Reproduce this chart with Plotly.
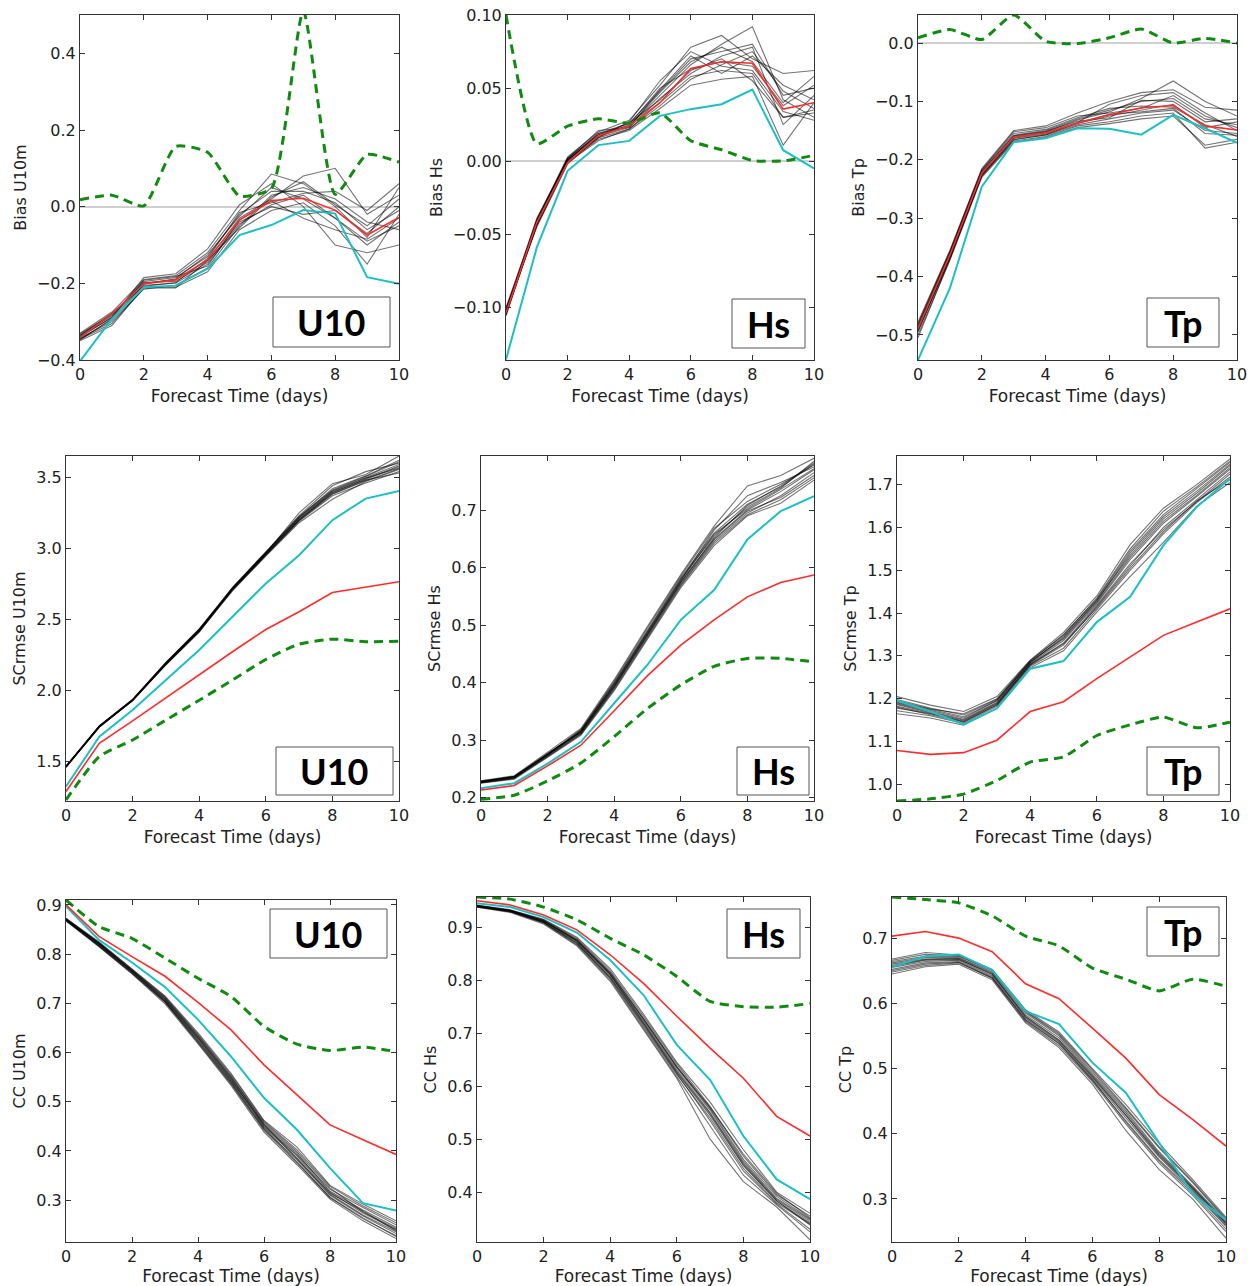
import plotly.graph_objects as go

forecast_days = [0, 1, 2, 3, 4, 5, 6, 7, 8, 9, 10]
x_tick_values = [0, 2, 4, 6, 8, 10]

# ---------------- Bias U10m ----------------
bias_u10_members = [
    [-0.335, -0.285, -0.195, -0.185, -0.130, -0.020, 0.040, 0.040, 0.010, -0.060, -0.010],
    [-0.345, -0.295, -0.205, -0.200, -0.150, -0.045, 0.005, 0.030, -0.030, -0.090, -0.050],
    [-0.330, -0.275, -0.190, -0.180, -0.120, -0.010, 0.085, 0.060, 0.000, -0.080, 0.050],
    [-0.350, -0.310, -0.210, -0.210, -0.170, -0.060, -0.010, 0.010, -0.050, -0.150, -0.020],
    [-0.340, -0.280, -0.200, -0.190, -0.140, -0.030, 0.020, 0.080, 0.100, -0.020, 0.030],
    [-0.338, -0.290, -0.185, -0.175, -0.110, 0.005, 0.060, 0.000, -0.100, -0.120, -0.100],
    [-0.343, -0.300, -0.215, -0.205, -0.160, -0.050, 0.030, 0.050, 0.020, -0.040, -0.060],
    [-0.332, -0.282, -0.198, -0.195, -0.145, -0.040, 0.000, -0.020, -0.010, -0.070, 0.000],
    [-0.348, -0.292, -0.202, -0.188, -0.125, -0.025, 0.050, 0.020, -0.030, -0.100, -0.040],
    [-0.336, -0.278, -0.208, -0.198, -0.135, -0.015, 0.010, 0.035, 0.040, -0.010, 0.060],
    [-0.341, -0.288, -0.192, -0.182, -0.155, -0.035, 0.015, -0.030, -0.060, -0.085, -0.030],
    [-0.346, -0.305, -0.212, -0.212, -0.140, -0.055, 0.025, 0.065, 0.005, -0.050, 0.020],
]
bias_u10_mean = [-0.341, -0.280, -0.201, -0.191, -0.138, -0.035, 0.016, 0.022, -0.009, -0.074, -0.028]
bias_u10_control = [-0.403, -0.293, -0.210, -0.206, -0.162, -0.074, -0.048, -0.009, -0.018, -0.184, -0.201]
bias_u10_green = [0.018, 0.030, 0.002, 0.157, 0.142, 0.028, 0.048, 0.510, 0.032, 0.136, 0.116]

# ---------------- Bias Hs ----------------
bias_hs_members = [
    [-0.102, -0.041, 0.002, 0.019, 0.026, 0.048, 0.070, 0.075, 0.080, 0.045, 0.050],
    [-0.105, -0.044, -0.001, 0.016, 0.022, 0.040, 0.058, 0.062, 0.060, 0.030, 0.035],
    [-0.100, -0.040, 0.003, 0.020, 0.028, 0.052, 0.078, 0.086, 0.070, 0.060, 0.062],
    [-0.104, -0.043, 0.000, 0.015, 0.021, 0.036, 0.052, 0.056, 0.058, 0.011, 0.040],
    [-0.103, -0.042, 0.001, 0.018, 0.024, 0.045, 0.066, 0.080, 0.092, 0.042, 0.030],
    [-0.101, -0.045, -0.002, 0.017, 0.025, 0.050, 0.063, 0.068, 0.065, 0.038, 0.052],
    [-0.106, -0.041, 0.002, 0.021, 0.023, 0.043, 0.060, 0.072, 0.078, 0.025, 0.045],
    [-0.102, -0.039, 0.001, 0.016, 0.027, 0.055, 0.075, 0.065, 0.062, 0.034, 0.028],
    [-0.104, -0.044, -0.001, 0.014, 0.022, 0.038, 0.056, 0.066, 0.075, 0.048, 0.036],
    [-0.103, -0.042, 0.000, 0.019, 0.024, 0.047, 0.068, 0.078, 0.068, 0.040, 0.058],
    [-0.101, -0.043, 0.002, 0.018, 0.026, 0.042, 0.062, 0.070, 0.055, 0.030, 0.033],
    [-0.105, -0.040, 0.001, 0.017, 0.023, 0.049, 0.072, 0.060, 0.072, 0.052, 0.042],
]
bias_hs_mean = [-0.1037, -0.042, -0.001, 0.0174, 0.0242, 0.040, 0.0635, 0.068, 0.067, 0.0356, 0.040]
bias_hs_control = [-0.1356, -0.059, -0.0066, 0.011, 0.0139, 0.031, 0.0356, 0.039, 0.049, 0.0075, -0.005]
bias_hs_green = [0.1000, 0.012, 0.024, 0.029, 0.026, 0.033, 0.014, 0.0078, 0.0005, 0.0002, 0.004]

# ---------------- Bias Tp ----------------
bias_tp_members = [
    [-0.485, -0.360, -0.220, -0.158, -0.150, -0.130, -0.115, -0.100, -0.095, -0.130, -0.140],
    [-0.492, -0.368, -0.226, -0.165, -0.158, -0.140, -0.130, -0.120, -0.115, -0.150, -0.155],
    [-0.478, -0.355, -0.215, -0.150, -0.142, -0.120, -0.100, -0.085, -0.080, -0.110, -0.115],
    [-0.500, -0.372, -0.230, -0.170, -0.162, -0.145, -0.138, -0.130, -0.125, -0.175, -0.165],
    [-0.488, -0.362, -0.222, -0.160, -0.152, -0.132, -0.118, -0.095, -0.065, -0.100, -0.125],
    [-0.483, -0.358, -0.218, -0.155, -0.148, -0.128, -0.112, -0.108, -0.110, -0.140, -0.160],
    [-0.495, -0.366, -0.225, -0.163, -0.156, -0.138, -0.125, -0.115, -0.105, -0.145, -0.135],
    [-0.490, -0.364, -0.224, -0.162, -0.153, -0.136, -0.105, -0.090, -0.085, -0.120, -0.150],
    [-0.505, -0.370, -0.228, -0.168, -0.160, -0.142, -0.135, -0.125, -0.120, -0.180, -0.170],
    [-0.481, -0.357, -0.217, -0.152, -0.145, -0.125, -0.120, -0.112, -0.090, -0.125, -0.145],
    [-0.487, -0.361, -0.221, -0.159, -0.151, -0.134, -0.128, -0.098, -0.100, -0.135, -0.130],
    [-0.493, -0.369, -0.227, -0.166, -0.157, -0.137, -0.122, -0.118, -0.112, -0.155, -0.158],
]
bias_tp_mean = [-0.489, -0.363, -0.223, -0.161, -0.154, -0.137, -0.123, -0.111, -0.107, -0.142, -0.149]
bias_tp_control = [-0.543, -0.420, -0.246, -0.170, -0.163, -0.146, -0.147, -0.157, -0.123, -0.146, -0.171]
bias_tp_green = [0.009, 0.023, 0.006, 0.048, 0.003, -0.001, 0.009, 0.024, 0.000, 0.008, 0.000]

# ---------------- SCrmse U10m ----------------
rmse_u10_members = [
    [1.465, 1.750, 1.935, 2.195, 2.430, 2.725, 2.975, 3.230, 3.440, 3.540, 3.600],
    [1.460, 1.740, 1.928, 2.185, 2.418, 2.710, 2.955, 3.195, 3.380, 3.475, 3.560],
    [1.458, 1.745, 1.932, 2.182, 2.420, 2.720, 2.965, 3.250, 3.455, 3.520, 3.650],
    [1.464, 1.742, 1.930, 2.192, 2.428, 2.712, 2.960, 3.205, 3.390, 3.490, 3.580],
    [1.461, 1.747, 1.926, 2.180, 2.410, 2.705, 2.950, 3.190, 3.370, 3.460, 3.540],
    [1.466, 1.748, 1.934, 2.194, 2.432, 2.722, 2.970, 3.215, 3.405, 3.500, 3.590],
    [1.459, 1.739, 1.929, 2.186, 2.415, 2.700, 2.945, 3.180, 3.345, 3.470, 3.555],
    [1.463, 1.746, 1.933, 2.190, 2.425, 2.718, 2.968, 3.220, 3.420, 3.510, 3.620],
    [1.460, 1.743, 1.931, 2.188, 2.422, 2.714, 2.958, 3.200, 3.395, 3.485, 3.575],
    [1.462, 1.744, 1.930, 2.178, 2.412, 2.716, 2.962, 3.212, 3.400, 3.495, 3.565],
    [1.465, 1.749, 1.936, 2.196, 2.426, 2.708, 2.952, 3.198, 3.385, 3.480, 3.530],
    [1.457, 1.741, 1.927, 2.184, 2.418, 2.722, 2.972, 3.225, 3.410, 3.505, 3.610],
]
rmse_u10_mean = [1.287, 1.627, 1.784, 1.948, 2.107, 2.271, 2.428, 2.553, 2.689, 2.729, 2.764]
rmse_u10_control = [1.322, 1.673, 1.861, 2.072, 2.283, 2.518, 2.752, 2.951, 3.198, 3.350, 3.404]
rmse_u10_green = [1.228, 1.533, 1.650, 1.790, 1.930, 2.072, 2.217, 2.325, 2.360, 2.342, 2.346]

# ---------------- SCrmse Hs ----------------
rmse_hs_members = [
    [0.228, 0.236, 0.276, 0.318, 0.400, 0.492, 0.582, 0.660, 0.710, 0.740, 0.780],
    [0.226, 0.234, 0.272, 0.310, 0.390, 0.480, 0.570, 0.645, 0.695, 0.725, 0.765],
    [0.229, 0.238, 0.279, 0.320, 0.405, 0.498, 0.588, 0.672, 0.742, 0.760, 0.790],
    [0.225, 0.232, 0.270, 0.308, 0.386, 0.475, 0.565, 0.638, 0.690, 0.712, 0.752],
    [0.227, 0.235, 0.275, 0.315, 0.397, 0.488, 0.578, 0.665, 0.725, 0.748, 0.775],
    [0.228, 0.237, 0.274, 0.312, 0.392, 0.484, 0.575, 0.650, 0.700, 0.732, 0.770],
    [0.226, 0.233, 0.273, 0.316, 0.398, 0.490, 0.580, 0.655, 0.705, 0.738, 0.785],
    [0.227, 0.236, 0.277, 0.313, 0.393, 0.482, 0.572, 0.648, 0.698, 0.722, 0.760],
    [0.229, 0.236, 0.275, 0.317, 0.402, 0.495, 0.585, 0.668, 0.715, 0.745, 0.778],
    [0.226, 0.234, 0.271, 0.311, 0.388, 0.478, 0.568, 0.642, 0.692, 0.718, 0.756],
    [0.228, 0.235, 0.274, 0.314, 0.396, 0.487, 0.577, 0.658, 0.702, 0.736, 0.772],
    [0.227, 0.237, 0.276, 0.315, 0.394, 0.485, 0.574, 0.652, 0.708, 0.742, 0.782],
]
rmse_hs_mean = [0.213, 0.221, 0.255, 0.291, 0.351, 0.412, 0.465, 0.509, 0.549, 0.574, 0.587]
rmse_hs_control = [0.216, 0.225, 0.259, 0.297, 0.364, 0.431, 0.509, 0.561, 0.649, 0.698, 0.724]
rmse_hs_green = [0.197, 0.204, 0.229, 0.260, 0.306, 0.355, 0.396, 0.428, 0.442, 0.442, 0.436]

# ---------------- SCrmse Tp ----------------
rmse_tp_members = [
    [1.190, 1.172, 1.155, 1.195, 1.285, 1.340, 1.425, 1.530, 1.615, 1.675, 1.740],
    [1.180, 1.162, 1.145, 1.185, 1.278, 1.325, 1.415, 1.510, 1.600, 1.665, 1.730],
    [1.205, 1.185, 1.170, 1.205, 1.290, 1.355, 1.440, 1.560, 1.645, 1.700, 1.760],
    [1.165, 1.155, 1.138, 1.178, 1.272, 1.312, 1.402, 1.485, 1.565, 1.650, 1.705],
    [1.188, 1.170, 1.152, 1.192, 1.284, 1.345, 1.428, 1.540, 1.625, 1.685, 1.748],
    [1.178, 1.165, 1.148, 1.188, 1.280, 1.330, 1.418, 1.515, 1.595, 1.660, 1.725],
    [1.198, 1.178, 1.162, 1.198, 1.288, 1.350, 1.432, 1.545, 1.630, 1.690, 1.752],
    [1.172, 1.160, 1.142, 1.182, 1.276, 1.318, 1.408, 1.500, 1.585, 1.658, 1.718],
    [1.186, 1.168, 1.150, 1.190, 1.282, 1.336, 1.422, 1.525, 1.610, 1.672, 1.736],
    [1.192, 1.175, 1.158, 1.196, 1.286, 1.342, 1.430, 1.535, 1.620, 1.680, 1.745],
    [1.182, 1.166, 1.146, 1.186, 1.280, 1.328, 1.412, 1.505, 1.590, 1.662, 1.712],
    [1.195, 1.176, 1.165, 1.200, 1.289, 1.348, 1.435, 1.550, 1.638, 1.695, 1.755],
]
rmse_tp_mean = [1.079, 1.070, 1.074, 1.103, 1.170, 1.193, 1.247, 1.297, 1.348, 1.379, 1.410]
rmse_tp_control = [1.196, 1.170, 1.140, 1.177, 1.270, 1.288, 1.379, 1.438, 1.558, 1.648, 1.714]
rmse_tp_green = [0.961, 0.966, 0.977, 1.009, 1.052, 1.064, 1.114, 1.139, 1.157, 1.132, 1.145]

# ---------------- CC U10m ----------------
cc_u10_members = [
    [0.872, 0.823, 0.768, 0.712, 0.635, 0.552, 0.455, 0.395, 0.318, 0.280, 0.245],
    [0.868, 0.817, 0.762, 0.702, 0.622, 0.538, 0.444, 0.382, 0.310, 0.268, 0.232],
    [0.873, 0.825, 0.770, 0.715, 0.640, 0.558, 0.462, 0.408, 0.330, 0.292, 0.258],
    [0.867, 0.815, 0.760, 0.699, 0.618, 0.533, 0.438, 0.372, 0.302, 0.258, 0.222],
    [0.870, 0.821, 0.766, 0.709, 0.631, 0.548, 0.452, 0.392, 0.322, 0.285, 0.250],
    [0.869, 0.819, 0.764, 0.705, 0.626, 0.542, 0.448, 0.386, 0.312, 0.270, 0.236],
    [0.871, 0.822, 0.767, 0.710, 0.633, 0.550, 0.458, 0.398, 0.325, 0.276, 0.242],
    [0.868, 0.818, 0.763, 0.704, 0.624, 0.540, 0.446, 0.378, 0.305, 0.262, 0.228],
    [0.870, 0.820, 0.765, 0.708, 0.630, 0.546, 0.450, 0.390, 0.316, 0.274, 0.240],
    [0.872, 0.824, 0.769, 0.713, 0.637, 0.555, 0.460, 0.402, 0.328, 0.288, 0.254],
    [0.869, 0.816, 0.761, 0.703, 0.620, 0.536, 0.442, 0.376, 0.306, 0.264, 0.226],
    [0.871, 0.821, 0.766, 0.706, 0.628, 0.544, 0.454, 0.385, 0.314, 0.278, 0.238],
]
cc_u10_mean = [0.900, 0.836, 0.795, 0.755, 0.702, 0.646, 0.575, 0.514, 0.453, 0.423, 0.393]
cc_u10_control = [0.897, 0.829, 0.783, 0.733, 0.667, 0.592, 0.508, 0.443, 0.365, 0.294, 0.279]
cc_u10_green = [0.910, 0.856, 0.832, 0.792, 0.751, 0.714, 0.653, 0.617, 0.604, 0.611, 0.602]

# ---------------- CC Hs ----------------
cc_hs_members = [
    [0.941, 0.932, 0.913, 0.877, 0.815, 0.728, 0.638, 0.558, 0.462, 0.392, 0.350],
    [0.939, 0.929, 0.909, 0.869, 0.804, 0.714, 0.622, 0.540, 0.445, 0.380, 0.340],
    [0.942, 0.933, 0.915, 0.881, 0.822, 0.736, 0.645, 0.570, 0.480, 0.400, 0.360],
    [0.938, 0.928, 0.906, 0.865, 0.798, 0.706, 0.615, 0.500, 0.420, 0.372, 0.310],
    [0.940, 0.931, 0.912, 0.875, 0.812, 0.725, 0.635, 0.555, 0.458, 0.388, 0.348],
    [0.939, 0.930, 0.910, 0.871, 0.807, 0.718, 0.626, 0.545, 0.450, 0.383, 0.342],
    [0.941, 0.932, 0.914, 0.879, 0.818, 0.732, 0.642, 0.562, 0.468, 0.395, 0.355],
    [0.938, 0.929, 0.908, 0.867, 0.801, 0.710, 0.618, 0.525, 0.432, 0.376, 0.325],
    [0.940, 0.931, 0.911, 0.873, 0.810, 0.722, 0.631, 0.550, 0.455, 0.386, 0.345],
    [0.941, 0.932, 0.912, 0.876, 0.814, 0.727, 0.636, 0.560, 0.472, 0.398, 0.352],
    [0.939, 0.930, 0.909, 0.870, 0.805, 0.716, 0.624, 0.535, 0.440, 0.378, 0.330],
    [0.940, 0.931, 0.911, 0.874, 0.811, 0.720, 0.628, 0.548, 0.452, 0.384, 0.338],
]
cc_hs_mean = [0.950, 0.942, 0.923, 0.895, 0.848, 0.794, 0.732, 0.672, 0.615, 0.543, 0.506]
cc_hs_control = [0.945, 0.938, 0.919, 0.890, 0.838, 0.772, 0.678, 0.612, 0.506, 0.424, 0.387]
cc_hs_green = [0.957, 0.953, 0.938, 0.914, 0.879, 0.848, 0.807, 0.760, 0.750, 0.749, 0.756]

# ---------------- CC Tp ----------------
cc_tp_members = [
    [0.662, 0.670, 0.670, 0.648, 0.585, 0.550, 0.492, 0.435, 0.372, 0.320, 0.266],
    [0.652, 0.662, 0.664, 0.640, 0.574, 0.538, 0.482, 0.420, 0.360, 0.312, 0.258],
    [0.668, 0.678, 0.674, 0.652, 0.590, 0.556, 0.500, 0.445, 0.385, 0.330, 0.272],
    [0.645, 0.656, 0.660, 0.636, 0.570, 0.532, 0.476, 0.405, 0.345, 0.300, 0.240],
    [0.660, 0.668, 0.669, 0.646, 0.582, 0.547, 0.490, 0.432, 0.370, 0.318, 0.264],
    [0.655, 0.664, 0.666, 0.642, 0.577, 0.541, 0.485, 0.425, 0.364, 0.314, 0.260],
    [0.664, 0.672, 0.672, 0.650, 0.587, 0.552, 0.495, 0.438, 0.378, 0.325, 0.268],
    [0.650, 0.660, 0.663, 0.638, 0.572, 0.535, 0.480, 0.415, 0.355, 0.306, 0.250],
    [0.658, 0.667, 0.668, 0.644, 0.580, 0.544, 0.488, 0.429, 0.368, 0.317, 0.263],
    [0.666, 0.675, 0.673, 0.651, 0.588, 0.554, 0.498, 0.440, 0.380, 0.327, 0.270],
    [0.648, 0.658, 0.662, 0.639, 0.575, 0.539, 0.483, 0.418, 0.358, 0.309, 0.254],
    [0.657, 0.666, 0.667, 0.645, 0.579, 0.543, 0.487, 0.428, 0.366, 0.316, 0.262],
]
cc_tp_mean = [0.703, 0.710, 0.700, 0.679, 0.630, 0.607, 0.562, 0.516, 0.460, 0.422, 0.381]
cc_tp_control = [0.656, 0.672, 0.675, 0.651, 0.588, 0.568, 0.509, 0.463, 0.386, 0.307, 0.268]
cc_tp_green = [0.763, 0.759, 0.754, 0.734, 0.703, 0.688, 0.654, 0.637, 0.619, 0.637, 0.626]

# ---------------- Panel layout (pixels) ----------------
W, H = 1255, 1286
panels = [
    # (members, mean, control, green, ytitle, yrange, ytickvals, tickformat, label, frame px, box px, zero)
    (bias_u10_members, bias_u10_mean, bias_u10_control, bias_u10_green, "Bias U10m",
     [-0.4, 0.5], [-0.4, -0.2, 0.0, 0.2, 0.4], ".1f", "U10", (80, 399, 15, 360), (273, 390, 297, 347), True),
    (bias_hs_members, bias_hs_mean, bias_hs_control, bias_hs_green, "Bias Hs",
     [-0.136, 0.1], [-0.10, -0.05, 0.0, 0.05, 0.10], ".2f", "Hs", (506, 814, 15, 360), (732, 805, 299, 348), True),
    (bias_tp_members, bias_tp_mean, bias_tp_control, bias_tp_green, "Bias Tp",
     [-0.543, 0.048], [-0.5, -0.4, -0.3, -0.2, -0.1, 0.0], ".1f", "Tp", (918, 1237, 15, 360), (1147, 1219, 298, 347), True),
    (rmse_u10_members, rmse_u10_mean, rmse_u10_control, rmse_u10_green, "SCrmse U10m",
     [1.22, 3.65], [1.5, 2.0, 2.5, 3.0, 3.5], ".1f", "U10", (66, 399, 456, 801), (276, 393, 747, 795), False),
    (rmse_hs_members, rmse_hs_mean, rmse_hs_control, rmse_hs_green, "SCrmse Hs",
     [0.194, 0.794], [0.2, 0.3, 0.4, 0.5, 0.6, 0.7], ".1f", "Hs", (481, 814, 456, 801), (737, 809, 747, 795), False),
    (rmse_tp_members, rmse_tp_mean, rmse_tp_control, rmse_tp_green, "SCrmse Tp",
     [0.961, 1.767], [1.0, 1.1, 1.2, 1.3, 1.4, 1.5, 1.6, 1.7], ".1f", "Tp", (897, 1230, 456, 801), (1147, 1219, 747, 795), False),
    (cc_u10_members, cc_u10_mean, cc_u10_control, cc_u10_green, "CC U10m",
     [0.215, 0.91], [0.3, 0.4, 0.5, 0.6, 0.7, 0.8, 0.9], ".1f", "U10", (66, 396, 900, 1242), (270, 387, 909, 958), False),
    (cc_hs_members, cc_hs_mean, cc_hs_control, cc_hs_green, "CC Hs",
     [0.306, 0.957], [0.4, 0.5, 0.6, 0.7, 0.8, 0.9], ".1f", "Hs", (477, 810, 897, 1242), (727, 800, 909, 958), False),
    (cc_tp_members, cc_tp_mean, cc_tp_control, cc_tp_green, "CC Tp",
     [0.234, 0.763], [0.3, 0.4, 0.5, 0.6, 0.7], ".1f", "Tp", (892, 1226, 897, 1242), (1147, 1219, 907, 956), False),
]

TEXT = "#222222"
FRAME = "#333333"
fig = go.Figure()
shapes = []
annotations = []
layout_axes = {}

for i, (members, mean, control, green, ytitle, yrange, ytv, tfmt, label, frame, box, zero) in enumerate(panels):
    n = i + 1
    xa = "x" if n == 1 else f"x{n}"
    ya = "y" if n == 1 else f"y{n}"
    for m in members:
        fig.add_trace(go.Scatter(x=forecast_days, y=m, mode="lines", xaxis=xa, yaxis=ya,
                                 line=dict(color="rgba(0,0,0,0.55)", width=1.1), showlegend=False,
                                 hoverinfo="skip"))
    fig.add_trace(go.Scatter(x=forecast_days, y=control, mode="lines", xaxis=xa, yaxis=ya,
                             line=dict(color="#1cc0c4", width=2), showlegend=False))
    fig.add_trace(go.Scatter(x=forecast_days, y=mean, mode="lines", xaxis=xa, yaxis=ya,
                             line=dict(color="#ff2a2a", width=1.6), showlegend=False))
    fig.add_trace(go.Scatter(x=forecast_days, y=green, mode="lines", xaxis=xa, yaxis=ya,
                             line=dict(color="#118a11", width=3, dash="9px,6px", shape="spline", smoothing=0.55),
                             showlegend=False))

    l, r, t, b = frame
    xkey = "xaxis" if n == 1 else f"xaxis{n}"
    ykey = "yaxis" if n == 1 else f"yaxis{n}"
    layout_axes[xkey] = dict(
        domain=[l / W, r / W], anchor=ya, range=[0, 10], tickvals=x_tick_values,
        ticks="inside", ticklen=5, tickcolor=FRAME, showline=True, linecolor=FRAME, linewidth=1,
        mirror="ticks", showgrid=False, zeroline=False, automargin=False,
        tickfont=dict(size=16, color=TEXT),
        title=dict(text="Forecast Time (days)", font=dict(size=17, color=TEXT), standoff=6),
    )
    layout_axes[ykey] = dict(
        domain=[1 - b / H, 1 - t / H], anchor=xa, range=yrange, tickvals=ytv, tickformat=tfmt,
        ticks="inside", ticklen=5, tickcolor=FRAME, showline=True, linecolor=FRAME, linewidth=1,
        mirror="ticks", showgrid=False, zeroline=zero, zerolinecolor="#cfcfcf", zerolinewidth=1.5,
        automargin=False, tickfont=dict(size=16, color=TEXT),
        title=dict(text=ytitle, font=dict(size=16, color=TEXT), standoff=6),
    )

    bl, br, bt, bb = box
    shapes.append(dict(type="rect", xref="paper", yref="paper",
                       x0=bl / W, x1=br / W, y0=1 - bb / H, y1=1 - bt / H,
                       line=dict(color="#555555", width=1), fillcolor="white", layer="above"))
    annotations.append(dict(xref="paper", yref="paper", x=(bl + br) / 2 / W, y=1 - (bt + bb) / 2 / H,
                            text=f"<b>{label}</b>", showarrow=False, xanchor="center", yanchor="middle",
                            font=dict(family="Lato", size=36, color="black")))

fig.update_layout(
    width=W, height=H, margin=dict(l=0, r=0, t=0, b=0),
    template="none", paper_bgcolor="white", plot_bgcolor="white",
    font=dict(family="DejaVu Sans", color=TEXT),
    showlegend=False, shapes=shapes, annotations=annotations,
    **layout_axes,
)

fig.write_html("out.html")
